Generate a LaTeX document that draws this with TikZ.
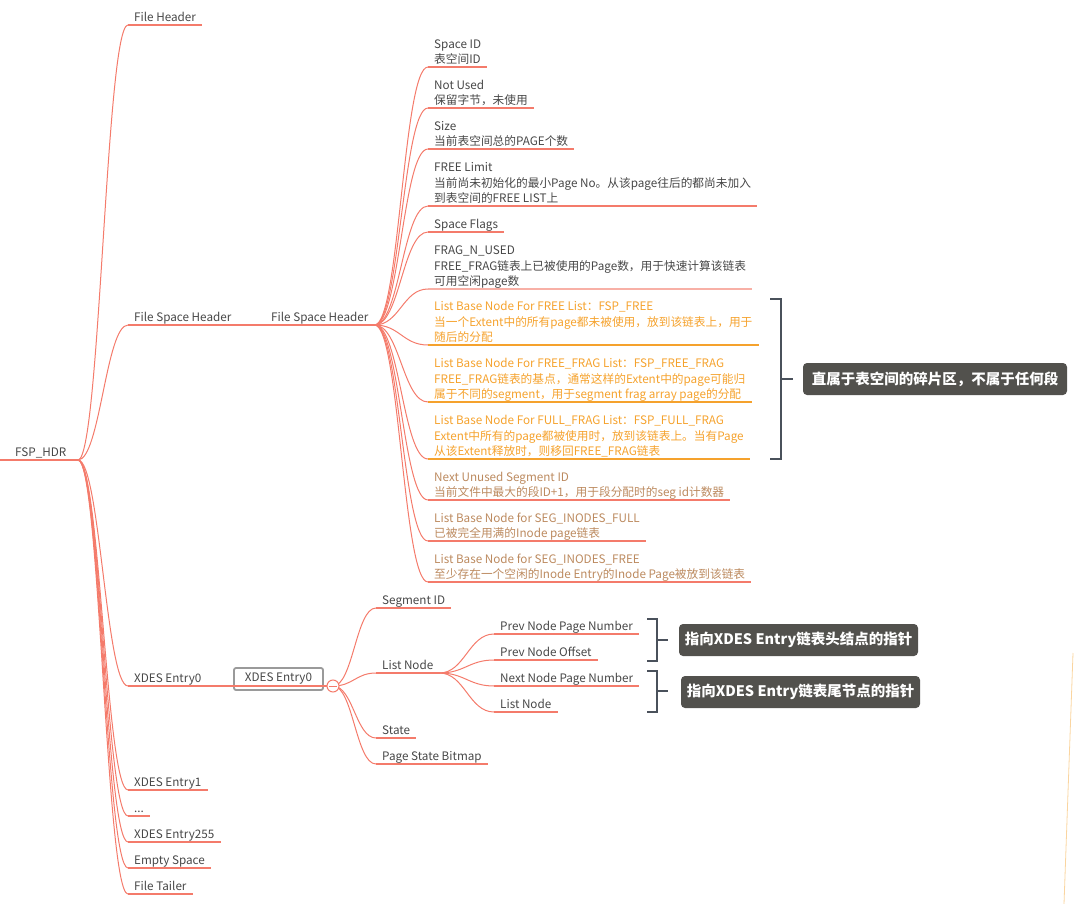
\documentclass[tikz,border=0pt]{standalone}
\usepackage{fontspec}
\setmainfont{Noto Sans CJK SC}
\usetikzlibrary{calc}
\definecolor{ln}{HTML}{F47B6B}
\definecolor{tx}{HTML}{474747}
\definecolor{org}{HTML}{F5A22D}
\definecolor{brn}{HTML}{BC8A5F}
\definecolor{brk}{HTML}{4A515B}
\definecolor{cal}{HTML}{52514D}
\definecolor{boxg}{HTML}{9A9A9A}
\newcommand\mmconn[3]{\draw[conn] (#1) .. controls ($(#1)+(#3,0)$) and ($(#2)+(-#3,0)$) .. (#2);}
\newcommand\uln[2][ln]{\draw[uline,draw=#1] (#2.south west) -- (#2.south east);}
\begin{document}
\begin{tikzpicture}[x=1pt,y=-1pt,
 item/.style={anchor=south west, inner xsep=6pt, inner ysep=0.5pt, text depth=2.5pt, align=left, font=\fontsize{11.7}{15.5}\selectfont, text=tx},
 oitem/.style={item, text=org},
 bitem/.style={item, text=brn},
 uline/.style={draw=ln, line width=1.2pt},
 conn/.style={draw=ln, line width=1pt},
 callout/.style={fill=cal, rounded corners=4pt, text=white, font=\fontsize{14.5}{16}\selectfont\bfseries, minimum height=32pt, inner sep=0pt},
 bracket/.style={draw=brk, line width=1.6pt},
]
\useasboundingbox (0,0) rectangle (1074,904);
% root
\coordinate (rootL) at (0,460);
\coordinate (root) at (78,460);
\node[item] (hdr) at (9,460) {FSP\_HDR};
\draw[uline] (rootL) -- (root);
% level 1
\node[item] (fh) at (128,25) {File Header};
\node[item] (fsh1) at (128,325) {File Space Header};
\node[item] (fsh2) at (265,325) {File Space Header};
\node[item] (x0) at (128,686) {XDES Entry0};
\node[item] (x1) at (128,790) {XDES Entry1};
\node[item] (xd) at (128,816) {...};
\node[item] (x255) at (128,842) {XDES Entry255};
\node[item] (es) at (128,868) {Empty Space};
\node[item] (ft) at (128,894) {File Tailer};
\foreach \n in {fh,fsh1,fsh2,x0,x1,xd,x255,es,ft} {\uln{\n}}
\foreach \n in {fh,fsh1,x0,x1,xd,x255,es,ft} {\mmconn{root}{\n.south west}{22}}
\draw[uline] (fsh1.south east) -- (fsh2.south west);
% level 2
\node[item] (s1) at (428,67) {Space ID\\表空间ID};
\node[item] (s2) at (428,108) {Not Used\\保留字节，未使用};
\node[item] (s3) at (428,149) {Size\\当前表空间总的PAGE个数};
\node[item] (s4) at (428,206) {FREE Limit\\当前尚未初始化的最小Page No。从该page往后的都尚未加入\\到表空间的FREE LIST上};
\node[item] (s5) at (428,232) {Space Flags};
\node[item] (s6) at (428,289) {FRAG\_N\_USED\\FREE\_FRAG链表上已被使用的Page数，用于快速计算该链表\\可用空闲page数};
\node[oitem] (s7) at (428,345) {List Base Node For FREE List：FSP\_FREE\\当一个Extent中的所有page都未被使用，放到该链表上，用于\\随后的分配};
\node[oitem] (s8) at (428,402) {List Base Node For FREE\_FRAG List：FSP\_FREE\_FRAG\\FREE\_FRAG链表的基点，通常这样的Extent中的page可能归\\属于不同的segment，用于segment frag array page的分配};
\node[oitem] (s9) at (428,459) {List Base Node For FULL\_FRAG List：FSP\_FULL\_FRAG\\Extent中所有的page都被使用时，放到该链表上。当有Page\\从该Extent释放时，则移回FREE\_FRAG链表};
\node[bitem] (s10) at (428,500) {Next Unused Segment ID\\当前文件中最大的段ID+1，用于段分配时的seg id计数器};
\node[bitem] (s11) at (428,541) {List Base Node for SEG\_INODES\_FULL\\已被完全用满的Inode page链表};
\node[bitem] (s12) at (428,582) {List Base Node for SEG\_INODES\_FREE\\至少存在一个空闲的Inode Entry的Inode Page被放到该链表};
\foreach \n in {s1,s2,s3,s4,s5,s10,s11,s12} {\uln{\n}}
\uln[ln!60]{s6}
\foreach \n in {s7,s8,s9} {\uln[org]{\n}}
\foreach \n in {s1,s2,s3,s4,s5,s6,s7,s8,s9,s10,s11,s12} {\mmconn{fsh2.south east}{\n.south west}{25}}
% XDES Entry0 detail
\node[draw=boxg, line width=1.8pt, rounded corners=2pt, minimum width=89pt, minimum height=22pt, inner sep=0pt, font=\fontsize{11.7}{14}\selectfont, text=tx] (xbox) at (278.5,679) {XDES Entry0};
\coordinate (xc) at (333,686);
\draw[uline] (x0.south east) -- (xc);
\node[item] (sg) at (376,608) {Segment ID};
\node[item] (lnd) at (376,673) {List Node};
\node[item] (st) at (376,738) {State};
\node[item] (psb) at (376,764) {Page State Bitmap};
\foreach \n in {sg,lnd,st,psb} {\uln{\n}\mmconn{xc}{\n.south west}{20}}
\node[circle, draw=ln, fill=white, line width=1pt, minimum size=12pt, inner sep=0pt] (circ) at (xc) {};
\draw[ln, line width=0.8pt] ($(circ.center)+(-4,0)$) -- ($(circ.center)+(4,0)$);
% List Node children
\node[item] (p1) at (494,634) {Prev Node Page Number};
\node[item] (p2) at (494,660) {Prev Node Offset};
\node[item] (p3) at (494,686) {Next Node Page Number};
\node[item] (p4) at (494,712) {List Node};
\foreach \n in {p1,p2,p3,p4} {\uln{\n}\mmconn{lnd.south east}{\n.south west}{25}}
% brackets and callouts
\draw[bracket] (770,299) -- (781,299) -- (781,459) -- (770,459);
\coordinate (b1) at (781,379);
\coordinate (b1e) at (793,379);
\draw[bracket] (b1) -- (b1e);
\node[callout, minimum width=264pt] (c1) at (935,379) {直属于表空间的碎片区，不属于任何段};
\draw[bracket] (647,619) -- (657,619) -- (657,661) -- (647,661);
\coordinate (b2) at (657,640);
\coordinate (b2e) at (668,640);
\draw[bracket] (b2) -- (b2e);
\node[callout, minimum width=239pt] (c2) at (798.5,640) {指向XDES Entry链表头结点的指针};
\draw[bracket] (647,671) -- (657,671) -- (657,712) -- (647,712);
\coordinate (b3) at (657,691);
\coordinate (b3e) at (668,691);
\draw[bracket] (b3) -- (b3e);
\node[callout, minimum width=239pt] (c3) at (800.5,692) {指向XDES Entry链表尾节点的指针};
% faint stray line at right edge
\draw[org!45, line width=0.8pt] (1073,653) -- (1064,904);
\end{tikzpicture}
\end{document}
